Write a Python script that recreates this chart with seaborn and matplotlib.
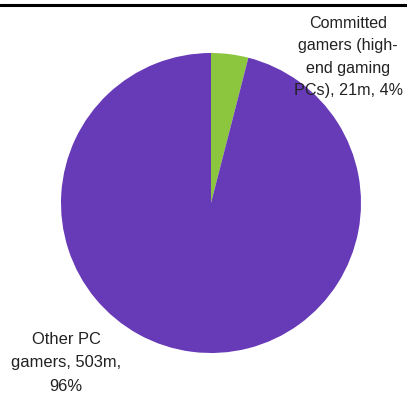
import matplotlib
matplotlib.use("Agg")
import matplotlib.pyplot as plt
import seaborn as sns

# PC gamer segments (millions)
segments = ["Committed gamers (high-\nend gaming PCs)", "Other PC gamers"]
gamers_m = [21, 503]
shares_pct = [4, 96]
colors = ["#8CC63F", "#673AB7"]

label_texts = [
    "Committed\ngamers (high-\nend gaming\nPCs), 21m, 4%",
    "Other PC\ngamers, 503m,\n96%",
]

sns.set_theme(style="white")
plt.rcParams["font.family"] = ["Liberation Sans", "DejaVu Sans"]

W, H, DPI = 407, 394, 100
fig = plt.figure(figsize=(W / DPI, H / DPI), dpi=DPI)
ax = fig.add_axes([0, 0, 1, 1])

# pie centre / radius in pixels, converted to data units
cx, cy, r = 211, 203, 150

ax.pie(gamers_m, colors=colors, startangle=90, counterclock=False,
       radius=1.0, center=(0, 0), wedgeprops=dict(linewidth=0),
       frame=False)
ax.set_xlim(-cx / r, (W - cx) / r)
ax.set_ylim(-(H - cy) / r, cy / r)
ax.set_aspect("equal")
ax.axis("off")

ax.text((348 - cx) / r, (cy - 57) / r, label_texts[0], ha="center",
        va="center", fontsize=11.6, color="#222222", linespacing=1.6)
ax.text((66 - cx) / r, (cy - 363) / r, label_texts[1], ha="center",
        va="center", fontsize=11.9, color="#222222", linespacing=1.68)

# heading rule across the top
fig.add_artist(plt.Line2D([0, 1], [1 - 5 / H, 1 - 5 / H],
                          transform=fig.transFigure, color="black",
                          linewidth=2.2))

fig.savefig("out.png", dpi=DPI)
